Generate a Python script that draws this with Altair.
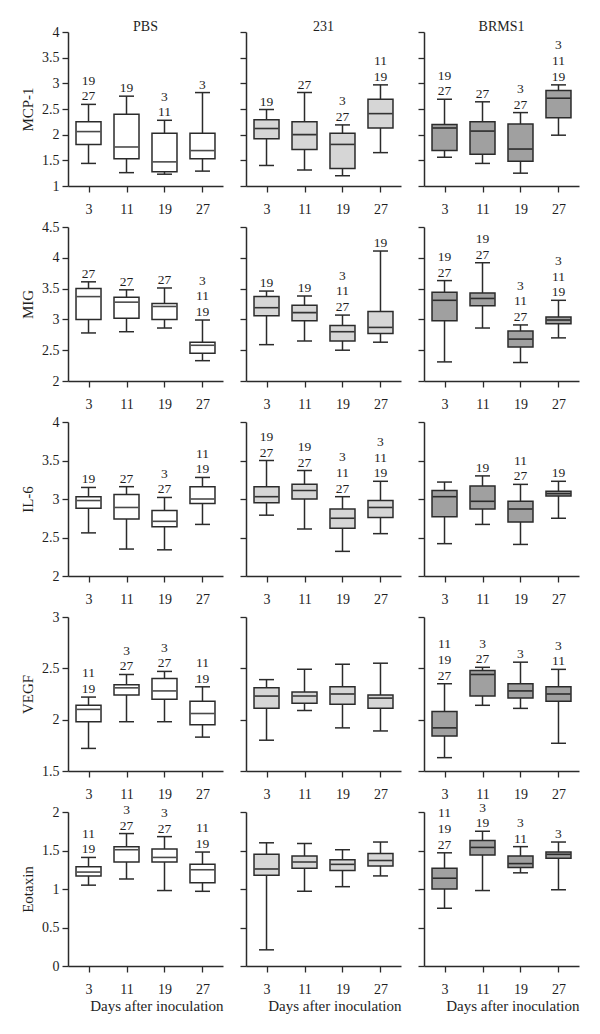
import altair as alt
import pandas as pd

DAYS = ["3", "11", "19", "27"]
GROUPS = ["PBS", "231", "BRMS1"]
CYTOKINES = ["MCP-1", "MIG", "IL-6", "VEGF", "Eotaxin"]

# each list: PBS d3,d11,d19,d27 | 231 d3..d27 | BRMS1 d3..d27
MCP1_MIN = [1.44, 1.26, 1.23, 1.29, 1.40, 1.31, 1.20, 1.65, 1.56, 1.44, 1.25, 1.99]
MCP1_Q1 = [1.81, 1.53, 1.28, 1.53, 1.92, 1.71, 1.34, 2.13, 1.69, 1.62, 1.48, 2.33]
MCP1_MED = [2.06, 1.76, 1.47, 1.69, 2.12, 2.00, 1.81, 2.41, 2.13, 2.07, 1.72, 2.71]
MCP1_Q3 = [2.25, 2.40, 2.03, 2.03, 2.29, 2.25, 2.03, 2.69, 2.20, 2.25, 2.21, 2.86]
MCP1_MAX = [2.59, 2.75, 2.28, 2.82, 2.49, 2.82, 2.19, 2.97, 2.69, 2.64, 2.43, 2.97]
MCP1_SIG = ["19|27", "19", "3|11", "3", "19", "27", "3|27", "11|19",
            "19|27", "27", "3|27", "3|11|19"]

MIG_MIN = [2.78, 2.80, 2.86, 2.33, 2.59, 2.65, 2.50, 2.63, 2.31, 2.86, 2.30, 2.70]
MIG_Q1 = [3.00, 3.02, 3.00, 2.45, 3.06, 2.98, 2.65, 2.77, 2.98, 3.22, 2.55, 2.93]
MIG_MED = [3.37, 3.28, 3.21, 2.58, 3.19, 3.11, 2.80, 2.87, 3.31, 3.34, 2.68, 2.99]
MIG_Q3 = [3.50, 3.36, 3.26, 2.63, 3.37, 3.23, 2.90, 3.13, 3.44, 3.43, 2.81, 3.04]
MIG_MAX = [3.61, 3.48, 3.51, 2.99, 3.46, 3.38, 3.07, 4.11, 3.63, 3.92, 2.91, 3.31]
MIG_SIG = ["27", "27", "27", "3|11|19", "19", "19", "3|11|27", "19",
           "19|27", "19|27", "3|11|27", "3|11|19"]

IL6_MIN = [2.56, 2.35, 2.34, 2.67, 2.79, 2.61, 2.32, 2.55, 2.42, 2.67, 2.41, 2.75]
IL6_Q1 = [2.88, 2.74, 2.64, 2.94, 2.95, 3.00, 2.62, 2.76, 2.77, 2.87, 2.70, 3.04]
IL6_MED = [2.98, 2.89, 2.71, 3.00, 3.03, 3.11, 2.75, 2.89, 3.03, 2.97, 2.87, 3.07]
IL6_Q3 = [3.03, 3.06, 2.85, 3.16, 3.16, 3.19, 2.87, 2.98, 3.11, 3.17, 2.97, 3.10]
IL6_MAX = [3.15, 3.16, 3.02, 3.28, 3.50, 3.37, 3.03, 3.23, 3.22, 3.30, 3.19, 3.23]
IL6_SIG = ["19", "27", "3|27", "11|19", "19|27", "19|27", "3|11|27", "3|11|19",
           "", "19", "11|27", "19"]

VEGF_MIN = [1.72, 1.98, 1.98, 1.83, 1.80, 2.09, 1.92, 1.89, 1.63, 2.14, 2.11, 1.77]
VEGF_Q1 = [1.98, 2.24, 2.20, 1.95, 2.11, 2.16, 2.15, 2.11, 1.84, 2.23, 2.21, 2.18]
VEGF_MED = [2.10, 2.31, 2.28, 2.06, 2.23, 2.23, 2.25, 2.21, 1.92, 2.44, 2.28, 2.25]
VEGF_Q3 = [2.14, 2.34, 2.40, 2.18, 2.31, 2.27, 2.32, 2.24, 2.08, 2.48, 2.35, 2.32]
VEGF_MAX = [2.22, 2.44, 2.47, 2.32, 2.39, 2.49, 2.54, 2.55, 2.35, 2.51, 2.56, 2.49]
VEGF_SIG = ["11|19", "3|27", "3|27", "11|19", "", "", "", "",
            "11|19|27", "3|27", "3", "3|11"]

EOT_MIN = [1.05, 1.13, 0.98, 0.97, 0.21, 0.97, 1.03, 1.17, 0.75, 0.98, 1.21, 0.99]
EOT_Q1 = [1.17, 1.35, 1.35, 1.08, 1.18, 1.27, 1.24, 1.30, 1.00, 1.44, 1.28, 1.40]
EOT_MED = [1.22, 1.51, 1.41, 1.25, 1.26, 1.35, 1.32, 1.37, 1.14, 1.54, 1.33, 1.45]
EOT_Q3 = [1.29, 1.55, 1.52, 1.32, 1.45, 1.43, 1.38, 1.46, 1.27, 1.63, 1.43, 1.48]
EOT_MAX = [1.41, 1.72, 1.68, 1.48, 1.60, 1.59, 1.51, 1.61, 1.47, 1.75, 1.55, 1.61]
EOT_SIG = ["11|19", "3|27", "3|27", "11|19", "", "", "", "",
           "11|19|27", "3|19", "3|11", "3"]

Y_DOMAINS = [[1, 4], [2, 4.5], [2, 4], [1.5, 3], [0, 2]]
Y_TICKS = [[1, 1.5, 2, 2.5, 3, 3.5, 4],
           [2, 2.5, 3, 3.5, 4, 4.5],
           [2, 2.5, 3, 3.5, 4],
           [1.5, 2, 2.5, 3],
           [0, 0.5, 1, 1.5, 2]]
FILLS = ["#ffffff", "#d6d6d6", "#a0a0a0"]
MEDIANS = ["#4a4a4a", "#333333", "#2b2b2b"]

STATS = [
    (MCP1_MIN, MCP1_Q1, MCP1_MED, MCP1_Q3, MCP1_MAX, MCP1_SIG),
    (MIG_MIN, MIG_Q1, MIG_MED, MIG_Q3, MIG_MAX, MIG_SIG),
    (IL6_MIN, IL6_Q1, IL6_MED, IL6_Q3, IL6_MAX, IL6_SIG),
    (VEGF_MIN, VEGF_Q1, VEGF_MED, VEGF_Q3, VEGF_MAX, VEGF_SIG),
    (EOT_MIN, EOT_Q1, EOT_MED, EOT_Q3, EOT_MAX, EOT_SIG),
]

FONT = "Liberation Serif"
INK = "#2b2b2b"
TXT = "#1e1e1e"
W, H = 155, 154


def panel(r, g):
    mn, q1, md, q3, mx, sig = STATS[r]
    rows, labels = [], []
    for d in range(4):
        i = g * 4 + d
        rows.append(dict(day=DAYS[d], lo=mn[i], q1=q1[i], med=md[i], q3=q3[i], hi=mx[i]))
        parts = [p for p in sig[i].split("|") if p]
        for k, p in enumerate(reversed(parts)):
            labels.append(dict(day=DAYS[d], hi=mx[i], txt=p, k=k))
    df = pd.DataFrame(rows)
    ldf = pd.DataFrame(labels, columns=["day", "hi", "txt", "k"])

    left = g == 0
    bottom = r == len(CYTOKINES) - 1
    xaxis = alt.Axis(
        title="Days after inoculation" if bottom else None,
        titleAnchor="end", titleFont=FONT, titleFontSize=15, titleFontWeight="normal",
        titleColor=TXT, titlePadding=2,
        labelAngle=0, labelFont=FONT, labelFontSize=14, labelColor=TXT, labelPadding=10,
        tickSize=6, tickColor=INK, domainColor=INK, tickWidth=1.3, domainWidth=1.5,
        grid=False,
    )
    yaxis = alt.Axis(
        title=CYTOKINES[r] if left else None,
        titleFont=FONT, titleFontSize=15, titleFontWeight="normal", titleColor=TXT,
        titlePadding=6,
        labels=left, values=Y_TICKS[r], format=".1~f",
        labelFont=FONT, labelFontSize=14, labelColor=TXT, labelPadding=3,
        tickSize=6, tickColor=INK, domainColor=INK, tickWidth=1.3, domainWidth=1.5,
        grid=False,
    )
    x = alt.X("day:N", sort=DAYS, scale=alt.Scale(type="point", padding=0.54), axis=xaxis)
    yscale = alt.Scale(domain=Y_DOMAINS[r], nice=False, zero=False)

    def Y(field):
        return alt.Y(field, scale=yscale, axis=yaxis)

    base = alt.Chart(df)
    whisker = base.mark_rule(color=INK, strokeWidth=1.5).encode(x=x, y=Y("lo:Q"), y2="hi:Q")
    box = base.mark_bar(size=25, fill=FILLS[g], stroke=INK, strokeWidth=1.5).encode(
        x=x, y=Y("q1:Q"), y2="q3:Q")
    med = base.mark_tick(size=24, thickness=1.6, color=MEDIANS[g], opacity=1).encode(
        x=x, y=Y("med:Q"))
    cap_lo = base.mark_tick(size=15, thickness=1.5, color=INK, opacity=1).encode(x=x, y=Y("lo:Q"))
    cap_hi = base.mark_tick(size=15, thickness=1.5, color=INK, opacity=1).encode(x=x, y=Y("hi:Q"))
    layers = [whisker, box, med, cap_lo, cap_hi]
    for k in range(3):
        sub = ldf[ldf["k"] == k]
        if len(sub):
            layers.append(
                alt.Chart(sub).mark_text(
                    font=FONT, fontSize=13.5, color=TXT, baseline="alphabetic",
                    dy=-(4 + k * 15.7)
                ).encode(x=x, y=Y("hi:Q"), text="txt:N")
            )
    if r == 0:
        layers.append(
            alt.Chart(pd.DataFrame({"t": [GROUPS[g]]})).mark_text(
                font=FONT, fontSize=14, color=TXT, baseline="alphabetic", align="center"
            ).encode(x=alt.value(W / 2), y=alt.value(-1), text="t:N")
        )
    return alt.layer(*layers).properties(width=W, height=H)


panels = [panel(r, g) for r in range(len(CYTOKINES)) for g in range(3)]

chart = alt.ConcatChart(
    concat=panels, columns=3, spacing={"row": 41, "column": 23}, bounds="flush",
    padding={"left": 12, "top": 12, "right": 5, "bottom": 5},
).configure_view(stroke=None).configure_axis(grid=False)

chart.save("out.html", embed_options={"renderer": "svg", "actions": False})
